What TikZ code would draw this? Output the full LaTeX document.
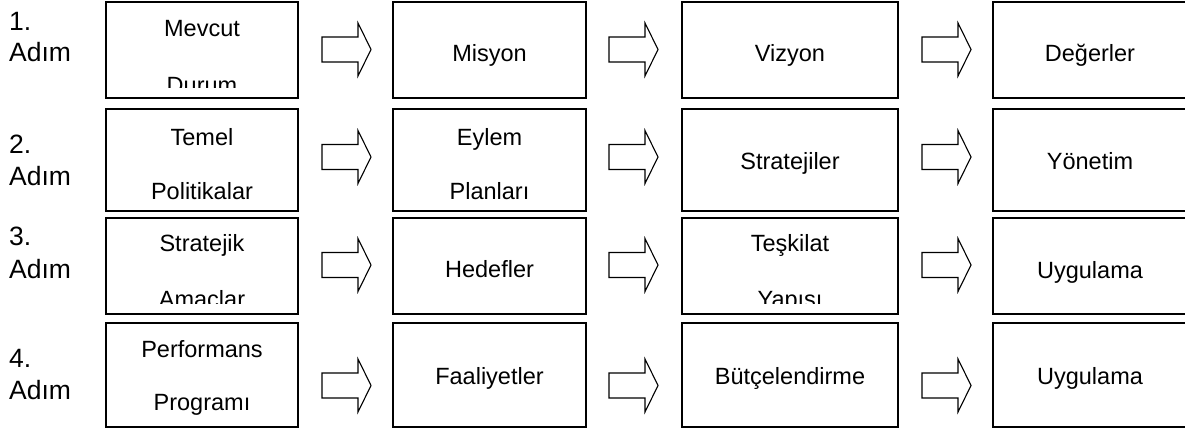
\documentclass[tikz,border=0pt]{standalone}
\usepackage{fontspec}
\setmainfont{Liberation Sans}
\begin{document}
\begin{tikzpicture}[x=1pt,y=-1pt,
  box/.style={draw=black,line width=2pt,inner sep=0pt,fill=none},
  boxtext/.style={anchor=base,inner sep=0pt,font=\fontsize{23.5}{28}\selectfont},
  steplabel/.style={anchor=base west,inner sep=0pt,font=\fontsize{26.5}{31}\selectfont},
  blockarrow/.pic={\draw[line width=1.1pt,line join=miter] (0,-12.5) -- (36,-12.5) -- (36,-26.5) -- (49,0) -- (36,26.5) -- (36,12.5) -- (0,12.5) -- cycle;}
]
\clip (0,0) rectangle (1185,436);
\fill[white] (0,0) rectangle (1185,436);

% boxes
\node[box,minimum width=192pt,minimum height=96pt] (b11) at (202,50) {};
\node[box,minimum width=193pt,minimum height=96pt] (b12) at (489.5,50) {};
\node[box,minimum width=216pt,minimum height=96pt] (b13) at (790,50) {};
\node[box,minimum width=194pt,minimum height=96pt] (b14) at (1090,50) {};

\node[box,minimum width=192pt,minimum height=102pt] (b21) at (202,160) {};
\node[box,minimum width=193pt,minimum height=102pt] (b22) at (489.5,160) {};
\node[box,minimum width=216pt,minimum height=102pt] (b23) at (790,160) {};
\node[box,minimum width=194pt,minimum height=102pt] (b24) at (1090,160) {};

\node[box,minimum width=192pt,minimum height=96pt] (b31) at (202,266) {};
\node[box,minimum width=193pt,minimum height=96pt] (b32) at (489.5,266) {};
\node[box,minimum width=216pt,minimum height=96pt] (b33) at (790,266) {};
\node[box,minimum width=194pt,minimum height=96pt] (b34) at (1090,266) {};

\node[box,minimum width=192pt,minimum height=104pt] (b41) at (202,375) {};
\node[box,minimum width=193pt,minimum height=104pt] (b42) at (489.5,375) {};
\node[box,minimum width=216pt,minimum height=104pt] (b43) at (790,375) {};
\node[box,minimum width=194pt,minimum height=104pt] (b44) at (1090,375) {};

% step labels
\node[steplabel] (l1a) at (9,31) {1.};
\node[steplabel] (l1b) at (9,62) {Adım};
\node[steplabel] (l2a) at (9,153) {2.};
\node[steplabel] (l2b) at (9,185) {Adım};
\node[steplabel] (l3a) at (9,245) {3.};
\node[steplabel] (l3b) at (9,278) {Adım};
\node[steplabel] (l4a) at (9,367) {4.};
\node[steplabel] (l4b) at (9,399) {Adım};

% two-line texts (clipped inside boxes)
\begin{scope}
  \clip (106,3) rectangle (298,87);
  \node[boxtext] (t11a) at (202,37) {Mevcut};
  \node[boxtext] (t11b) at (202,93) {Durum};
\end{scope}
\node[boxtext] (t21a) at (202,145) {Temel};
\node[boxtext] (t21b) at (202,199) {Politikalar};
\node[boxtext] (t22a) at (489.5,145) {Eylem};
\node[boxtext] (t22b) at (489.5,199) {Planları};
\begin{scope}
  \clip (106,219) rectangle (298,303);
  \node[boxtext] (t31a) at (202,251) {Stratejik};
  \node[boxtext] (t31b) at (202,307) {Amaclar};
\end{scope}
\begin{scope}
  \clip (682,219) rectangle (898,303);
  \node[boxtext] (t33a) at (790,251) {Teşkilat};
  \node[boxtext] (t33b) at (790,307) {Yapısı};
\end{scope}
\node[boxtext] (t41a) at (202,357) {Performans};
\node[boxtext] (t41b) at (202,410) {Programı};

% one-line texts
\node[boxtext] (t12) at (489.5,61) {Misyon};
\node[boxtext] (t13) at (790,61) {Vizyon};
\node[boxtext] (t14) at (1090,61) {Değerler};
\node[boxtext] (t23) at (790,169) {Stratejiler};
\node[boxtext] (t24) at (1090,169) {Yönetim};
\node[boxtext] (t32) at (489.5,277) {Hedefler};
\node[boxtext] (t34) at (1090,278) {Uygulama};
\node[boxtext] (t42) at (489.5,384) {Faaliyetler};
\node[boxtext] (t43) at (790,384) {Bütçelendirme};
\node[boxtext] (t44) at (1090,384) {Uygulama};

% block arrows
\foreach \yy in {49.5,157,265,385.5}{
  \pic at (322,\yy) {blockarrow};
  \pic at (609,\yy) {blockarrow};
  \pic at (922,\yy) {blockarrow};
}
\end{tikzpicture}
\end{document}
